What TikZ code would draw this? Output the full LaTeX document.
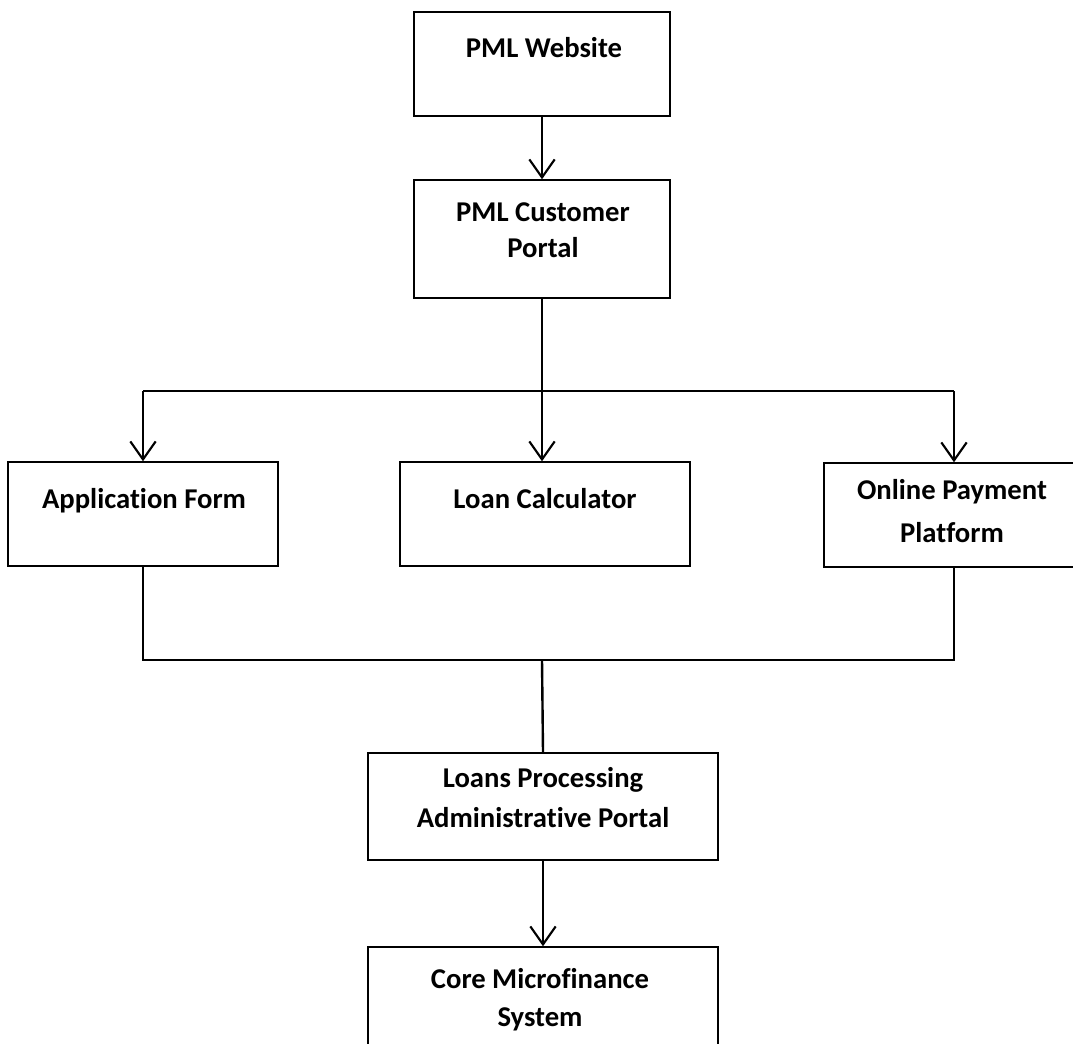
\documentclass[tikz,border=0pt]{standalone}
\usepackage{fontspec}
\setmainfont[Ligatures=NoCommon]{Carlito}
\usetikzlibrary{arrows.meta,positioning,calc}

\begin{document}
\begin{tikzpicture}[x=0.75pt,y=-0.75pt,>={Straight Barb[length=13.5pt,width=19pt,line width=1.6pt]},
    box/.style={draw,line width=1.1pt,inner sep=0pt},
    txt/.style={font=\fontsize{21.5}{29}\bfseries\selectfont,align=center,anchor=base,inner sep=0pt},
    conn/.style={line width=1.8pt}]
                \useasboundingbox (0,0) rectangle (1073,1044);
                % boxes
                \node[box, minimum width=192pt, minimum height=78pt] at (542,64) (web) {};
                \node[box, minimum width=192pt, minimum height=88.5pt] at (542,239) (portal) {};
                \node[box, minimum width=202.5pt, minimum height=78pt] at (143,514) (appform) {};
                \node[box, minimum width=217.5pt, minimum height=78pt] at (545,514) (calc) {};
                \node[box, minimum width=195pt, minimum height=78pt] at (954,515) (payment) {};
                \node[box, minimum width=262.5pt, minimum height=80.25pt] at (543,806.5) (admin) {};
                \node[box, minimum width=262.5pt, minimum height=80.25pt] at (543,1000.5) (core) {};
                % texts (base = last line)
                \node[txt] at (544,58) (webtxt) {PML Website};
                \node[txt] at (543,258) (portaltxt) {PML Customer\\[-2pt]Portal};
                \node[txt] at (144,508) (appformtxt) {Application Form};
                \node[txt] at (545,508) (calctxt) {Loan Calculator};
                \node[txt] at (952,542) (paymenttxt) {Online Payment\\[3pt]Platform};
                \node[txt] at (543,827) (admintxt) {Loans Processing\\[1pt]Administrative Portal};
                \node[txt] at (540,1026) (coretxt) {Core Microfinance\\[-0.5pt]System};
                % connectors
                \coordinate (split) at (542,391);
                \coordinate (merge) at (542,660);
                \draw[conn,->] (web) -- (portal);
                \draw[conn] (portal.south) -- (split);
                \draw[conn] (split -| appform) -- (split -| payment);
                \draw[conn,->] (split -| appform) -- (appform.north);
                \draw[conn,->] (split) -- (split |- calc.north);
                \draw[conn,->] (split -| payment) -- (payment.north);
                \draw[conn] (appform.south) |- (merge) -| (payment.south);
                \draw[conn] (merge) -- (admin.north);
                \draw[conn,->] (admin) -- (core);
            \end{tikzpicture}
\end{document}
